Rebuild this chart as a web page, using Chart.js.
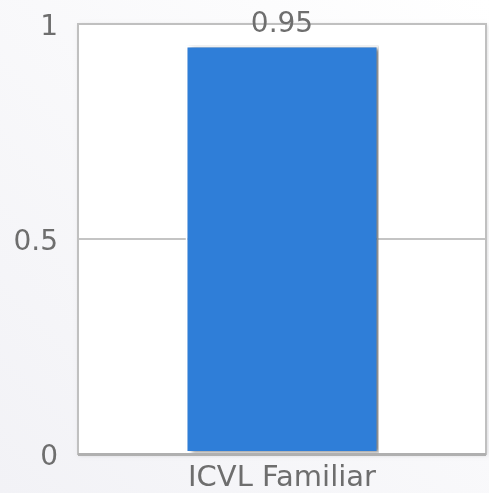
<!DOCTYPE html>
<html>
<head>
<meta charset="utf-8">
<script src="https://cdn.jsdelivr.net/npm/chart.js@4/dist/chart.umd.min.js"></script>
<style>
    html, body { margin: 0; padding: 0; }
    body { width: 489px; height: 493px; overflow: hidden; }
    #wrap { width: 489px; height: 493px; position: relative; }
</style>
</head>
<body>
<div id="wrap"><canvas id="chart"></canvas></div>
<script>
// data
const categories = ['ICVL Familiar'];
const values = [0.95];
const yTicks = [0, 0.5, 1];

const textColor = '#6e6e6e';
const fontFace = '"DejaVu Sans", sans-serif';

// background + plot frame
const framePlugin = {
    id: 'frame',
    beforeDraw(chart) {
        const { ctx, width, height, chartArea: a } = chart;
        ctx.save();
        const g = ctx.createLinearGradient(width, 0, 0, height);
        g.addColorStop(0, '#ffffff');
        g.addColorStop(1, '#f2f2f6');
        ctx.fillStyle = g;
        ctx.fillRect(0, 0, width, height);
        ctx.shadowColor = 'rgba(0,0,0,0.18)';
        ctx.shadowBlur = 4;
        ctx.shadowOffsetX = 1;
        ctx.shadowOffsetY = 1;
        ctx.fillStyle = '#ffffff';
        ctx.fillRect(a.left, a.top, a.right - a.left, a.bottom - a.top);
        ctx.restore();
    },
    beforeDatasetsDraw(chart) {
        const { ctx, chartArea: a } = chart;
        ctx.save();
        ctx.strokeStyle = '#c0c0c0';
        ctx.lineWidth = 2;
        ctx.strokeRect(a.left, a.top, a.right - a.left, a.bottom - a.top);
        ctx.strokeStyle = '#b0b0b0';
        ctx.lineWidth = 3;
        ctx.beginPath();
        ctx.moveTo(a.left, a.bottom + 0.5);
        ctx.lineTo(a.right, a.bottom + 0.5);
        ctx.stroke();
        ctx.restore();
    },
    beforeDatasetDraw(chart) {
        const ctx = chart.ctx;
        ctx.save();
        ctx.shadowColor = 'rgba(0,0,0,0.5)';
        ctx.shadowBlur = 4;
        ctx.shadowOffsetX = 4;
        ctx.shadowOffsetY = 1;
    },
    afterDatasetDraw(chart) {
        chart.ctx.restore();
    },
    afterDraw(chart) {
        const { ctx } = chart;
        const meta = chart.getDatasetMeta(0);
        ctx.save();
        ctx.font = '28px ' + fontFace;
        ctx.fillStyle = textColor;
        ctx.textAlign = 'center';
        ctx.textBaseline = 'bottom';
        meta.data.forEach((bar, i) => {
            ctx.fillText(values[i].toFixed(2), bar.x, bar.y - 7);
        });
        ctx.restore();
    }
};

new Chart(document.getElementById('chart'), {
    type: 'bar',
    data: {
        labels: categories,
        datasets: [{
            data: values,
            backgroundColor: '#2f7ed8',
            borderColor: '#ffffff',
            borderWidth: 2,
            borderSkipped: false,
            categoryPercentage: 1,
            barPercentage: 0.473
        }]
    },
    options: {
        responsive: true,
        maintainAspectRatio: false,
        animation: false,
        devicePixelRatio: 1,
        layout: { padding: { top: 24, right: 3, left: 0, bottom: 0 } },
        plugins: { legend: { display: false }, tooltip: { enabled: false } },
        scales: {
            x: {
                grid: { display: false, drawTicks: false },
                border: { display: false },
                ticks: { color: textColor, font: { family: fontFace, size: 29 }, padding: 7 },
                afterFit: s => { s.height = 39; s.paddingLeft = 0; s.paddingRight = 0; }
            },
            y: {
                min: 0,
                max: 1,
                afterBuildTicks: s => { s.ticks = yTicks.map(v => ({ value: v })); },
                grid: { color: '#c4c4c4', lineWidth: 2, drawTicks: false },
                border: { display: false },
                ticks: {
                    color: textColor,
                    font: { family: fontFace, size: 28 },
                    padding: 20,
                    labelOffset: 4,
                    callback: v => String(v)
                },
                afterFit: s => { s.width = 78; s.paddingTop = 0; s.paddingBottom = 0; }
            }
        }
    },
    plugins: [framePlugin]
});
</script>
</body>
</html>
